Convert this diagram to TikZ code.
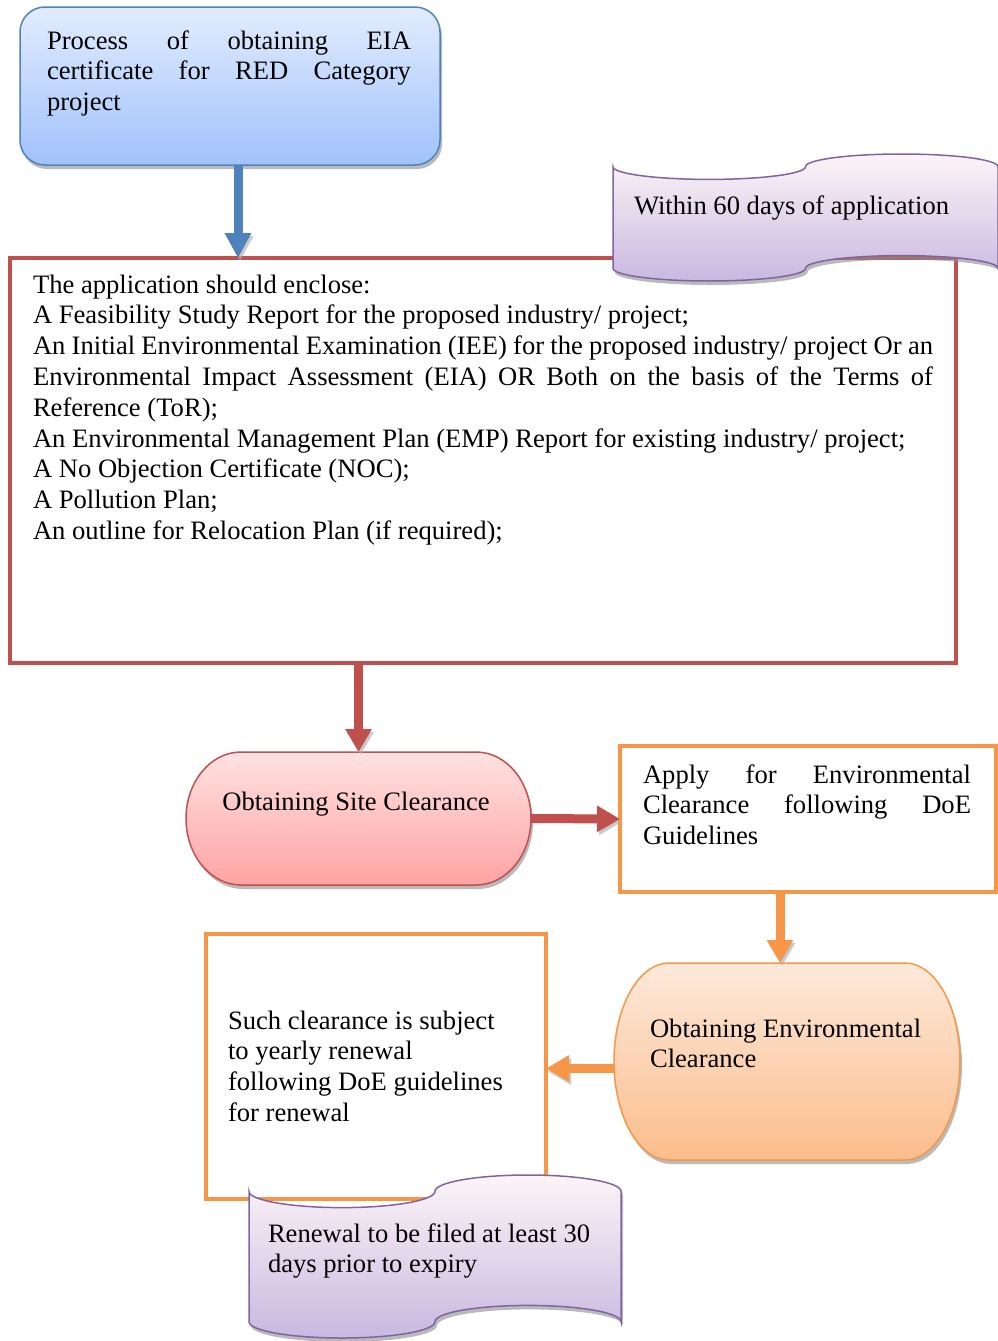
\documentclass[tikz,border=0pt]{standalone}
\usepackage{fontspec}
\setmainfont{Liberation Serif}
\usetikzlibrary{arrows.meta,shadows,calc}

\definecolor{blueline}{HTML}{4F81BD}
\definecolor{redline}{HTML}{C0504D}
\definecolor{orangeline}{HTML}{F79646}
\definecolor{purpleline}{HTML}{8064A2}

\newcommand{\flowtext}{\fontsize{26.6}{30.8}\selectfont}
\hyphenpenalty=10000
\exhyphenpenalty=10000

\begin{document}
\begin{tikzpicture}[x=1pt,y=1pt]
\tikzstyle{every node}=[inner sep=0pt,outer sep=0pt];
\tikzstyle{txt}=[anchor=base west,font=\flowtext];
\tikzstyle{shade}=[drop shadow={shadow xshift=2pt,shadow yshift=-4pt,fill=black!45,opacity=.6}];
\tikzstyle{arrowshade}=[preaction={draw=black!30,opacity=.7,transform canvas={shift={(2pt,-3pt)}}}];
\tikzstyle{tapefill}=[shade,draw=purpleline,line width=1.5pt,top color=purple!4!white,bottom color={rgb,255:red,201;green,184;blue,224}];
\tikzstyle{redarrow}=[arrowshade,draw=redline,line width=9pt,-{Triangle[width=25pt,length=23pt]}];
\tikzstyle{orangearrow}=[arrowshade,draw=orangeline,line width=9pt,-{Triangle[width=25pt,length=23pt]}];
\tikzstyle{bluearrow}=[arrowshade,draw=blueline,line width=9pt,-{Triangle[width=25pt,length=25pt]}];
\useasboundingbox (0,0) rectangle (998,-1341);

% start box
\node[shade,draw=blueline,line width=1.5pt,rounded corners=25pt,top color={rgb,255:red,226;green,236;blue,255},bottom color={rgb,255:red,161;green,194;blue,250},minimum width=420pt,minimum height=158pt] (proc) at (230,-86) {};
\node[txt] (proctext) at (47,-49) {\parbox[t]{364pt}{Process of obtaining EIA\linebreak certificate for RED Category\linebreak project}};

% application box
\node[draw=redline,line width=4pt,minimum width=946pt,minimum height=405pt] (app) at (483,-460.5) {};
\node[txt] (apptext) at (33,-293) {\parbox[t]{900pt}{The application should enclose:\par
A Feasibility Study Report for the proposed industry/ project;\par
An Initial Environmental Examination (IEE) for the proposed industry/ project Or an\linebreak Environmental Impact Assessment (EIA) OR Both on the basis of the Terms of\linebreak Reference (ToR);\par
An Environmental Management Plan (EMP) Report for existing industry/ project;\par
A No Objection Certificate (NOC);\par
A Pollution Plan;\par
An outline for Relocation Plan (if required);}};
\draw[bluearrow] ([xshift=8pt]proc.south) -- ([xshift=8pt]proc.south |- app.north);

% time limit banner
\node[minimum width=385pt,minimum height=127pt] (wait) at (805.5,-217.5) {};
\path[tapefill] ($(wait.north west)+(0,-12.7)$) arc[start angle=180,end angle=360,x radius=96.25,y radius=12.7] arc[start angle=180,end angle=0,x radius=96.25,y radius=12.7] -- ($(wait.south east)+(0,12.7)$) arc[start angle=0,end angle=180,x radius=96.25,y radius=12.7] arc[start angle=0,end angle=-180,x radius=96.25,y radius=12.7] -- cycle;
\node[txt] (waittext) at (634,-214) {Within 60 days of application};

% site clearance
\node[minimum width=345pt,minimum height=133pt] (site) at (358.5,-818.5) {};
\path[shade,draw=redline,line width=1.5pt,top color={rgb,255:red,255;green,226;blue,226},bottom color={rgb,255:red,255;green,163;blue,163}] ($(site.north west)+(55,0)$) -- ($(site.north east)+(-55,0)$) arc[start angle=90,end angle=-90,x radius=55,y radius=66.5] -- ($(site.south west)+(55,0)$) arc[start angle=270,end angle=90,x radius=55,y radius=66.5] -- cycle;
\node[anchor=base,font=\flowtext] (sitetext) at (356,-810) {Obtaining Site Clearance};
\draw[redarrow] (site.north |- app.south) -- (site.north);

% apply box
\node[draw=orangeline,line width=4pt,minimum width=376pt,minimum height=146pt] (apply) at (808,-819) {};
\node[txt] (applytext) at (643,-783) {\parbox[t]{328pt}{Apply for Environmental\linebreak Clearance following DoE\linebreak Guidelines}};
\draw[redarrow] (site.east) -- (apply.west);

% environmental clearance
\node[minimum width=346pt,minimum height=197pt] (env) at (787,-1061.5) {};
\path[shade,draw=orangeline,line width=1.5pt,top color={rgb,255:red,253;green,233;blue,218},bottom color={rgb,255:red,251;green,189;blue,140}] ($(env.north west)+(55,0)$) -- ($(env.north east)+(-55,0)$) arc[start angle=90,end angle=-90,x radius=55,y radius=98.5] -- ($(env.south west)+(55,0)$) arc[start angle=270,end angle=90,x radius=55,y radius=98.5] -- cycle;
\node[txt] (envtext) at (650,-1037) {\parbox[t]{300pt}{Obtaining Environmental\\Clearance}};
\draw[orangearrow] ([xshift=-28pt]apply.south) -- ([xshift=-28pt]apply.south |- env.north);

% renewal box
\node[draw=orangeline,line width=4pt,minimum width=340pt,minimum height=265pt] (renew) at (376,-1066.5) {};
\node[txt] (renewtext) at (228,-1029) {\parbox[t]{300pt}{Such clearance is subject\\to yearly renewal\\following DoE guidelines\\for renewal}};
\draw[orangearrow] ([yshift=-7pt]env.west) -- ([yshift=-7pt]env.west -| renew.east);

% renewal banner
\node[minimum width=372pt,minimum height=163pt] (renewal) at (435,-1256.5) {};
\path[tapefill] ($(renewal.north west)+(0,-16.3)$) arc[start angle=180,end angle=360,x radius=93,y radius=16.3] arc[start angle=180,end angle=0,x radius=93,y radius=16.3] -- ($(renewal.south east)+(0,16.3)$) arc[start angle=0,end angle=180,x radius=93,y radius=16.3] arc[start angle=0,end angle=-180,x radius=93,y radius=16.3] -- cycle;
\node[txt] (renewaltext) at (268,-1242) {\parbox[t]{340pt}{Renewal to be filed at least 30\\days prior to expiry}};
\end{tikzpicture}
\end{document}
